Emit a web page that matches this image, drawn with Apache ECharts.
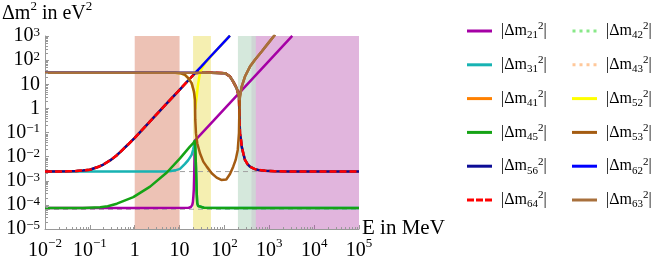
<!DOCTYPE html>
<html><head><meta charset="utf-8">
<script src="https://cdn.jsdelivr.net/npm/echarts@6/dist/echarts.min.js"></script>
<style>html,body{margin:0;padding:0;background:#fff}#c{width:664px;height:266px}</style>
</head><body><div id="c"></div>
<script>
// ---------- data (E in MeV, |Δm²| in eV²) ----------
const xTicks = [1e-2, 1e-1, 1, 10, 1e2, 1e3, 1e4, 1e5];
const yTicks = [1e-5, 1e-4, 1e-3, 1e-2, 1e-1, 1, 10, 1e2, 1e3];
const bandRanges = [[1, 10], [20, 50], [400, 1e5], [200, 500]];
const refLevels = [2.4e-3, 6.6e-5];

const dm21 = [[0.01,7.5e-5],[1,7.5e-5],[16,7.6e-5],[18,8.2e-5],[19.2,1.0e-4],[19.8,1.3e-4],[20.3,2.2e-4],[20.8,4.5e-4],[21.1,1.3e-3],[21.4,4.5e-3],[21.7,0.018],[22.1,0.047],[25,0.059],[30,0.0855],[56.5,0.303],[100,0.95],[300,8.55],[1000,95],[3250,1003]];
const dm31 = [[0.01,2.4e-3],[1,2.4e-3],[4,2.42e-3],[6,2.5e-3],[8,2.7e-3],[10.2,3.1e-3],[13.2,5.0e-3],[15.6,7.2e-3],[18.6,0.0118],[20.2,0.02],[21.3,0.033],[22.1,0.047],[22.6,0.015],[23.2,3.85e-3],[23.7,1.0e-3],[24.1,3.0e-4],[24.8,1.16e-4],[26,9e-5],[27.5,7.9e-5],[35,7.6e-5],[100,7.5e-5],[1e5,7.5e-5]];
const dm41 = [[0.01,2.4e-3],[0.03,2.45e-3],[0.05,2.55e-3],[0.07,2.65e-3],[0.1,2.85e-3],[0.15,3.7e-3],[0.2,4.7e-3],[0.3,7.5e-3],[0.4,0.0115],[0.5,0.017],[0.7,0.031],[1,0.06],[2,0.24],[5,1.5],[10,5.9],[15,13.3],[20,23.6],[22.3,29.4],[30,30],[50,30],[103,28.9],[133,20.9],[157,12.9],[187,6.9],[211,3.1],[216,0.5],[222,0.094],[234,0.049],[243,0.026],[263,0.0138],[287,7.3e-3],[330,4.8e-3],[371,3.85e-3],[463,3.1e-3],[569,2.8e-3],[802,2.6e-3],[1340,2.5e-3],[3000,2.42e-3],[1e5,2.4e-3]];
const dm45 = [[0.01,7.5e-5],[0.07,7.5e-5],[0.17,7.9e-5],[0.25,8.8e-5],[0.4,1.12e-4],[0.93,2.1e-4],[2.2,5.7e-4],[5.2,2.2e-3],[10.2,8.5e-3],[17,0.026],[20.2,0.036],[22.1,0.047],[22.6,0.015],[23.2,3.85e-3],[23.7,1.0e-3],[24.1,3.0e-4],[24.8,1.16e-4],[26,9e-5],[27.5,7.9e-5],[35,7.6e-5],[100,7.5e-5],[1e5,7.5e-5]];
const dm56 = [[0.01,2.4e-3],[0.03,2.45e-3],[0.05,2.55e-3],[0.07,2.65e-3],[0.1,2.85e-3],[0.15,3.7e-3],[0.2,4.7e-3],[0.3,7.5e-3],[0.4,0.0115],[0.5,0.017],[0.7,0.031],[1,0.06],[2,0.24],[5,1.5],[10,5.9],[15,13.3],[20,23.6],[22.3,29.4],[30,30],[50,30],[103,28.9],[133,20.9],[157,12.9],[187,6.9],[211,3.1],[216,0.5],[222,0.094],[234,0.049],[243,0.026],[263,0.0138],[287,7.3e-3],[330,4.8e-3],[371,3.85e-3],[463,3.1e-3],[569,2.8e-3],[802,2.6e-3],[1340,2.5e-3],[3000,2.42e-3],[1e5,2.4e-3]];
const dm64 = [[0.01,2.4e-3],[0.03,2.45e-3],[0.05,2.55e-3],[0.07,2.65e-3],[0.1,2.85e-3],[0.15,3.7e-3],[0.2,4.7e-3],[0.3,7.5e-3],[0.4,0.0115],[0.5,0.017],[0.7,0.031],[1,0.06],[2,0.24],[5,1.5],[10,5.9],[15,13.3],[20,23.6],[22.3,29.4],[30,30],[50,30],[103,28.9],[133,20.9],[157,12.9],[187,6.9],[211,3.1],[216,0.5],[222,0.094],[234,0.049],[243,0.026],[263,0.0138],[287,7.3e-3],[330,4.8e-3],[371,3.85e-3],[463,3.1e-3],[569,2.8e-3],[802,2.6e-3],[1340,2.5e-3],[3000,2.42e-3],[1e5,2.4e-3]];
const dm42 = [[0.01,30],[50,30],[103,28.9],[133,20.9],[157,12.9],[187,6.9],[211,3.1],[216,2.2],[222,3.1],[243,8.0],[287,20.9],[371,54],[480,103],[677,228],[951,507],[1340,1122]];
const dm43 = [[0.01,30],[50,30],[103,28.9],[133,20.9],[157,12.9],[187,6.9],[211,3.1],[216,2.2],[222,3.1],[243,8.0],[287,20.9],[371,54],[480,103],[677,228],[951,507],[1340,1122]];
const dm52 = [[0.01,30],[8,29.8],[10.2,28.9],[13.2,24.5],[15.6,17.9],[18.6,11.1],[20.9,5.0],[22.1,2.25],[22.4,0.9],[23,1.6],[24.1,3.1],[25.4,8],[27.5,20],[29,32],[31,44],[34,58],[37,74],[42,98],[50,143],[70,285],[100,585],[133,1040]];
const dm53 = [[0.01,30],[5,30],[8,29.8],[10.2,28.9],[13.2,24.5],[15.6,17.9],[18.6,11.1],[20.9,5.0],[22.1,2.25],[22.4,0.333],[23.2,0.094],[24.8,0.036],[28.5,0.0138],[33.8,6.2e-3],[40.3,3.85e-3],[52,2.05e-3],[67,1.35e-3],[85,1.08e-3],[110,1.12e-3],[133,1.9e-3],[157,3.85e-3],[178,7.3e-3],[198,0.019],[211,0.094],[214,0.457],[219,2.25],[222,3.1],[243,8.0],[287,20.9],[371,54],[480,103],[677,228],[951,507],[1340,1122]];
const dm62 = [[0.01,30],[20,30],[22.3,29.4],[30,53],[50,148],[100,590],[133,1044]];
const dm63 = [[0.01,30],[50,30],[103,28.9],[133,20.9],[157,12.9],[187,6.9],[211,3.1],[216,2.2],[222,3.1],[243,8.0],[287,20.9],[371,54],[480,103],[677,228],[951,507],[1340,1122]];

// ---------- styling ----------
const SERIF = '"Liberation Serif", "DejaVu Serif", serif';
const bandColors = ['rgba(214,120,90,0.45)', 'rgba(232,218,70,0.42)', 'rgba(180,70,170,0.4)', 'rgba(200,225,209,0.76)'];
const ICON_SOLID = 'rect';
const ICON_DASH = 'path://M0,0h7v3h-7z M9,0h7v3h-7z M18,0h7v3h-7z';
const ICON_DOT = 'path://M0,0h3v3h-3z M7,0h3v3h-3z M14,0h3v3h-3z M21,0h3v3h-3z';
const defs = [
  // name, data, color, type, width, legendLabel, legendIcon
  ['dm21', dm21, '#a500a5', 'solid', 2.5, '21', ICON_SOLID],
  ['dm31', dm31, '#17b3b3', 'solid', 2.5, '31', ICON_SOLID],
  ['dm41', dm41, '#ff8000', 'solid', 2.5, '41', ICON_SOLID],
  ['dm45', dm45, '#15a315', 'solid', 2.5, '45', ICON_SOLID],
  ['dm56', dm56, '#0c0c96', 'solid', 2.5, '56', ICON_SOLID],
  ['dm64', dm64, '#ff0000', [7, 3], 2.5, '64', ICON_DASH],
  ['dm42', dm42, '#88e888', 'dotted', 1.5, '42', ICON_DOT],
  ['dm43', dm43, '#ffc89a', 'dotted', 1.5, '43', ICON_DOT],
  ['dm52', dm52, '#ffff00', 'solid', 2.5, '52', ICON_SOLID],
  ['dm53', dm53, '#a45c12', 'solid', 2.5, '53', ICON_SOLID],
  ['dm62', dm62, '#0000ff', 'solid', 2.5, '62', ICON_SOLID],
  ['dm63', dm63, '#a8703c', 'solid', 2.5, '63', ICON_SOLID]
];
const subOf = {}, iconOf = {};
defs.forEach(d => { subOf[d[0]] = d[5]; iconOf[d[0]] = d[6]; });

function expLabel(v) {
  const e = Math.round(Math.log10(v));
  if (e === 0) return '1';
  if (e === 1) return '10';
  return '10{sup|' + (e < 0 ? '\u2212' + (-e) : e) + '}';
}

const minorData = [];
for (let k = -2; k < 5; k++) for (let j = 2; j < 10; j++) minorData.push([j * Math.pow(10, k), 1e-5, 0]);
for (let k = -5; k < 3; k++) for (let j = 2; j < 10; j++) minorData.push([1e-2, j * Math.pow(10, k), 1]);

const series = [];
series.push({
  name: 'ref', type: 'line', silent: true, symbol: 'none', z: 1,
  data: [[xTicks[0], refLevels[0]], [xTicks[xTicks.length - 1], refLevels[0]], null, [xTicks[0], refLevels[1]], [xTicks[xTicks.length - 1], refLevels[1]]],
  connectNulls: false,
  lineStyle: { color: '#a0a0a0', width: 1, type: [5, 4] },
  markArea: {
    silent: true,
    data: bandRanges.map((r, i) => [{ xAxis: r[0], itemStyle: { color: bandColors[i] } }, { xAxis: r[1] }])
  }
});
defs.forEach(d => {
  series.push({
    name: d[0], type: 'line', data: d[1], symbol: 'none', showSymbol: false, z: 2,
    lineStyle: { color: d[2], type: d[3], width: d[4] }, itemStyle: { color: d[2] }
  });
});
series.push({
  type: 'custom', silent: true, clip: false, z: 5,
  data: minorData,
  renderItem: function (params, api) {
    const p = api.coord([api.value(0), api.value(1)]);
    const flag = api.value(2);
    const x = Math.round(p[0]) + 0.5, y = Math.round(p[1]) + 0.5;
    return {
      type: 'line',
      shape: flag === 0 ? { x1: x, y1: y, x2: x, y2: y - 2.5 } : { x1: x, y1: y, x2: x + 2.5, y2: y },
      style: { stroke: '#999', lineWidth: 1 }
    };
  }
});

const legendRich = {
  sub: { fontSize: 11, lineHeight: 12, verticalAlign: 'bottom', fontFamily: SERIF, color: '#000' },
  sup: { fontSize: 11, lineHeight: 12, verticalAlign: 'top', fontFamily: SERIF, color: '#000' }
};
function legendCfg(names, left) {
  return {
    data: names.map(n => ({ name: n, icon: iconOf[n] })),
    orient: 'vertical', left: left, top: 21, padding: 0,
    itemWidth: 25, itemHeight: 3, itemGap: 13.8, selectedMode: false,
    formatter: n => '|\u0394m{sub|' + subOf[n] + '}{sup|2}|',
    textStyle: { fontFamily: SERIF, fontSize: 16, lineHeight: 20, color: '#000', padding: [0, 0, 0, 4], rich: legendRich }
  };
}

const option = {
  animation: false,
  backgroundColor: '#fff',
  grid: { left: 45, right: 305, top: 36, bottom: 37, outerBoundsMode: 'none', containLabel: false },
  xAxis: {
    type: 'log', logBase: 10, min: xTicks[0], max: xTicks[xTicks.length - 1], interval: 1,
    axisLine: { lineStyle: { color: '#999', width: 1 } },
    axisTick: { inside: true, length: 4, lineStyle: { color: '#999' } },
    splitLine: { show: false },
    axisLabel: { margin: 8, fontFamily: SERIF, fontSize: 20, lineHeight: 28, color: '#000', formatter: expLabel,
      rich: { sup: { fontSize: 13, lineHeight: 10, verticalAlign: 'top', fontFamily: SERIF, color: '#000' } },
      showMinLabel: true, showMaxLabel: true, hideOverlap: false }
  },
  yAxis: {
    type: 'log', logBase: 10, min: yTicks[0], max: yTicks[yTicks.length - 1], interval: 1,
    axisLine: { show: true, lineStyle: { color: '#999', width: 1 } },
    axisTick: { show: true, inside: true, length: 4, lineStyle: { color: '#999' } },
    splitLine: { show: false },
    axisLabel: { margin: 5, fontFamily: SERIF, fontSize: 20, lineHeight: 20, color: '#000', formatter: expLabel,
      rich: { sup: { fontSize: 13, lineHeight: 6, verticalAlign: 'top', fontFamily: SERIF, color: '#000' } },
      showMinLabel: true, showMaxLabel: true, hideOverlap: false }
  },
  legend: [
    legendCfg(['dm21', 'dm31', 'dm41', 'dm45', 'dm56', 'dm64'], 467),
    legendCfg(['dm42', 'dm43', 'dm52', 'dm53', 'dm62', 'dm63'], 572)
  ],
  graphic: [
    { type: 'text', left: 2, top: 0, silent: true,
      style: { text: '\u0394m{sup|2} in eV{sup|2}', fontFamily: SERIF, fontSize: 20, lineHeight: 28, fill: '#000',
        rich: { sup: { fontSize: 13, lineHeight: 10, verticalAlign: 'top', fontFamily: SERIF, fill: '#000', color: '#000' } } } },
    { type: 'text', left: 362, top: 214, silent: true,
      style: { text: 'E in MeV', fontFamily: SERIF, fontSize: 21, lineHeight: 28, fill: '#000' } }
  ],
  series: series
};
const chart = echarts.init(document.getElementById('c'), null, { renderer: 'canvas' });
chart.setOption(option);
</script></body></html>
